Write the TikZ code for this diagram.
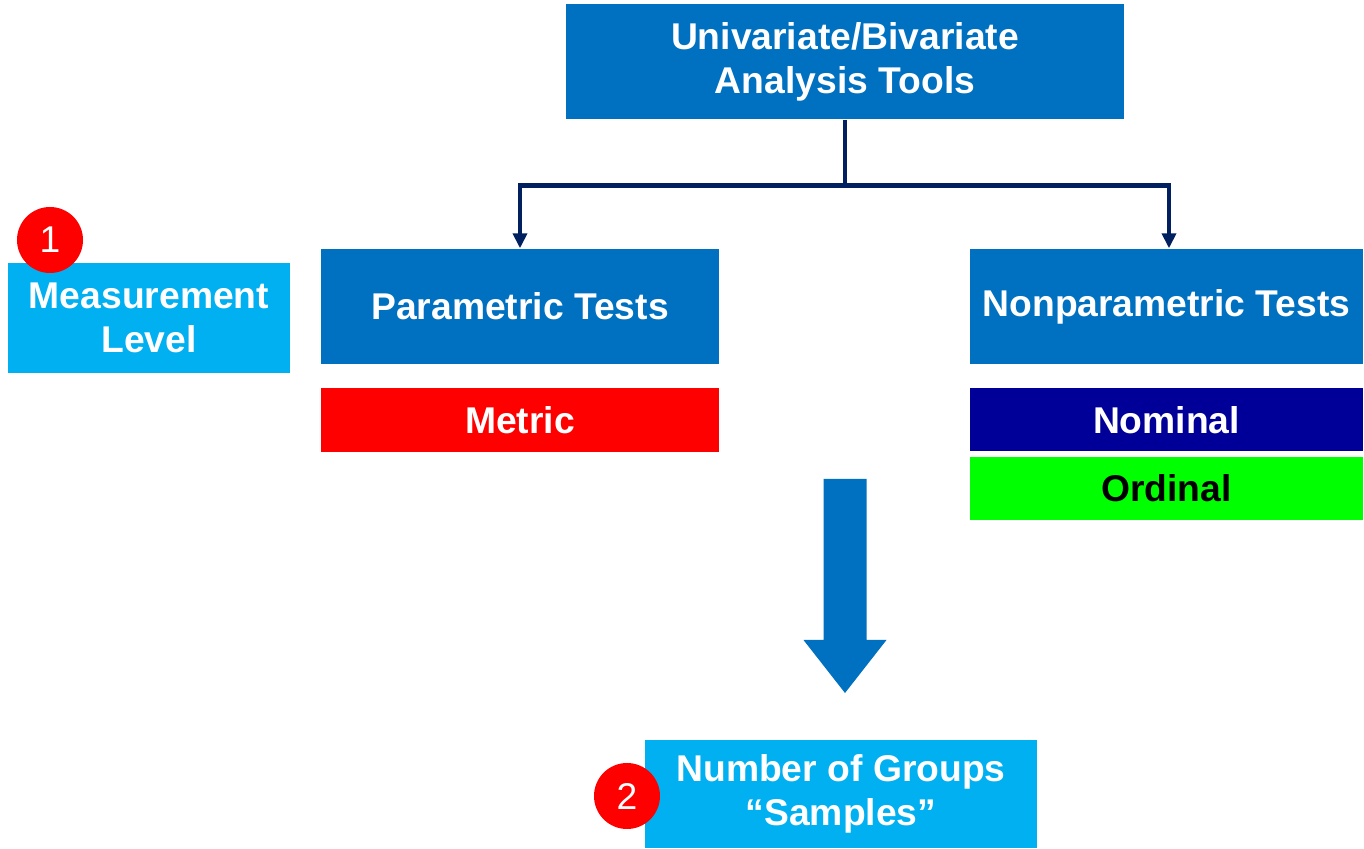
\documentclass[tikz,border=0pt]{standalone}
\usepackage{fontspec}
\setmainfont{Liberation Sans}
\usepackage{tikz}
\usetikzlibrary{arrows.meta,positioning}
\definecolor{toolblue}{HTML}{0070C0}
\definecolor{skyblue}{HTML}{00B0F0}
\definecolor{linknavy}{HTML}{002060}
\definecolor{nomnavy}{HTML}{000099}
\definecolor{ordgreen}{HTML}{00FF00}
\definecolor{metricred}{HTML}{FF0000}

\begin{document}
\begin{tikzpicture}[
    font=\fontsize{10.6}{12.5}\selectfont\bfseries,
    box/.style={inner sep=0pt,align=center,text=white},
    tool/.style={box,fill=toolblue,minimum height=1.15cm},
    crit/.style={box,fill=skyblue},
    level/.style={box,minimum height=0.635cm},
    badge/.style={circle,fill=metricred,text=white,minimum size=0.66cm,inner sep=0pt,font=\fontsize{10.6}{12.5}\selectfont},
    link/.style={-{Triangle[width=0.14cm,length=0.15cm]},draw=linknavy,line width=1.3pt},
  ]
    \useasboundingbox (0,0) rectangle (13.64,-8.49);

    \node[tool,minimum width=5.58cm] (top) at (8.45,-0.615) {Univariate/Bivariate\\Analysis Tools};
    \node[tool,minimum width=3.98cm] (param) at (5.20,-3.065) {Parametric Tests};
    \node[tool,minimum width=3.93cm] (nonparam) at (11.665,-3.065) {Nonparametric Tests};

    \node[level,fill=metricred,minimum width=3.98cm,below=2.3mm of param] (metric) {Metric};
    \node[level,fill=nomnavy,minimum width=3.93cm,minimum height=0.63cm,below=2.3mm of nonparam] (nominal) {Nominal};
    \node[level,fill=ordgreen,text=black,minimum width=3.93cm,minimum height=0.63cm,below=0.4mm of nominal] (ordinal) {Ordinal};

    \node[crit,minimum width=2.82cm,minimum height=1.10cm] (measure) at (1.49,-3.18) {Measurement\\Level};
    \node[crit,minimum width=3.92cm,minimum height=1.08cm] (groups) at (8.41,-7.94) {Number of Groups\\``Samples''};
    \node[badge] (one) at (0.50,-2.40) {1};
    \node[badge] (two) at (6.27,-7.96) {2};

    \draw[link] (top.south) -- ++(0,-0.66) coordinate (split) -| (param.north);
    \draw[link] (split) -| ([xshift=0.25mm]nonparam.north);

    % big block arrow towards the second criterion
    \coordinate (bigarr) at (8.45,-4.79);
    \fill[toolblue] ([xshift=-0.215cm]bigarr) -- ++(0,-1.61) -- ++(-0.20,0)
      -- (8.45,-6.93) -- ([xshift=0.415cm,yshift=-1.61cm]bigarr)
      -- ++(-0.20,0) -- ([xshift=0.215cm]bigarr) -- cycle;
  \end{tikzpicture}
\end{document}
